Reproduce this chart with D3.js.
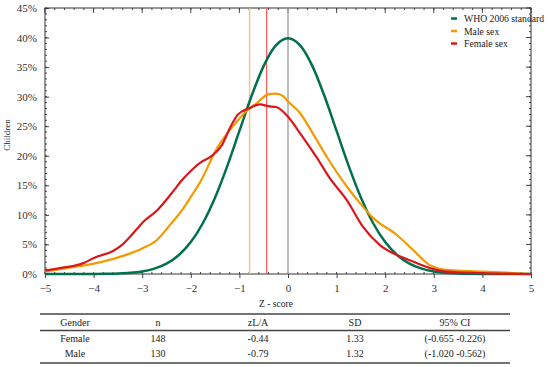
<!DOCTYPE html>
<html>
<head>
<meta charset="utf-8">
<script src="https://cdn.jsdelivr.net/npm/d3@7"></script>
<style>
  body { margin: 0; background: #fff; }
</style>
</head>
<body>
<div id="my_dataviz"></div>
<script>
// z grid and percentages
const zWho = [-5, -4.5, -4, -3.75, -3.5, -3.25, -3, -2.75, -2.5, -2.25, -2, -1.75, -1.5, -1.25, -1, -0.75, -0.5, -0.25, 0,
              0.25, 0.5, 0.75, 1, 1.25, 1.5, 1.75, 2, 2.25, 2.5, 2.75, 3, 3.25, 3.5, 3.75, 4, 4.5, 5]
const who = [0, 0, 0.01, 0.04, 0.09, 0.2, 0.44, 0.91, 1.75, 3.17, 5.4, 8.63, 12.95, 18.26, 24.2, 30.11, 35.21, 38.67, 39.89,
             38.67, 35.21, 30.11, 24.2, 18.26, 12.95, 8.63, 5.4, 3.17, 1.75, 0.91, 0.44, 0.2, 0.09, 0.04, 0.01, 0, 0]

const zMale = [-5, -4.55, -3.97, -3.46, -2.98, -2.69, -2.43, -2.18, -1.98, -1.81, -1.46, -1.05, -0.84, -0.64, -0.41, -0.25,
               -0.1, 0, 0.25, 0.51, 0.8, 1.21, 1.54, 1.75, 2.24, 2.57, 2.92, 3.27, 3.74, 4.36, 4.63, 5]
const male = [0.4, 1.0, 1.8, 2.9, 4.4, 5.8, 8.3, 10.8, 13.3, 15.5, 21.3, 25.8, 27.7, 28.9, 30.4, 30.5,
              30.1, 29.2, 27.2, 23.8, 19.8, 14.8, 11.4, 9.5, 6.6, 4.1, 1.5, 0.7, 0.5, 0.3, 0.15, 0]

const zFemale = [-5, -4.69, -4.22, -3.97, -3.6, -3.42, -3.11, -2.98, -2.69, -2.39, -2.18, -1.98, -1.81, -1.6, -1.36, -1.2, -1.03,
                 -0.78, -0.58, -0.41, -0.23, 0, 0.25, 0.6, 0.86, 1.21, 1.54, 1.89, 2.24, 2.57, 2.92, 3.27, 4, 5]
const female = [0.6, 1.0, 1.8, 2.8, 3.9, 4.9, 7.6, 8.8, 10.8, 13.7, 15.9, 17.6, 18.8, 19.8, 21.8, 24.6, 27.0,
                28.1, 28.7, 28.4, 28.2, 26.6, 23.8, 19.6, 16.2, 12.5, 8.0, 4.9, 3.2, 2.1, 1.0, 0.4, 0.15, 0]

const legendLabels = ["WHO 2006 standard", "Male sex", "Female sex"]
const seriesColors = ["#00704f", "#f39a00", "#d7191c"]

// table
const tableHeader = ["Gender", "n", "zL/A", "SD", "95% CI"]
const genders = ["Female", "Male"]
const counts = [148, 130]
const means = [-0.44, -0.79]
const sds = ["1.33", "1.32"]
const cis = ["(-0.655 -0.226)", "(-1.020 -0.562)"]

const xTicks = [-5, -4, -3, -2, -1, 0, 1, 2, 3, 4, 5]
const yTicks = [0, 5, 10, 15, 20, 25, 30, 35, 40, 45]

var fontFam = "Liberation Serif"
var margin = { left: 45, top: 8 },
    width = 486,
    height = 266

var svg = d3.select("#my_dataviz")
    .append("svg")
    .attr("width", 550)
    .attr("height", 367)
    .attr("font-family", fontFam)

var g = svg.append("g")
    .attr("transform", "translate(" + margin.left + "," + margin.top + ")")

var x = d3.scaleLinear().domain([-5, 5]).range([0, width])
var y = d3.scaleLinear().domain([0, 45]).range([height, 0])

// minor ticks
var xMinor = d3.range(-50, 51, 2).map(d => d / 10)
var yMinor = d3.range(0, 46, 1)
var tickColor = "#444"

g.selectAll(".xminb").data(xMinor).enter().append("line")
    .attr("x1", d => x(d)).attr("x2", d => x(d))
    .attr("y1", height).attr("y2", height - 2)
    .attr("stroke", tickColor)
g.selectAll(".xmint").data(xMinor).enter().append("line")
    .attr("x1", d => x(d)).attr("x2", d => x(d))
    .attr("y1", 0).attr("y2", 2)
    .attr("stroke", tickColor)
g.selectAll(".ymin").data(yMinor).enter().append("line")
    .attr("x1", 0).attr("x2", 2)
    .attr("y1", d => y(d)).attr("y2", d => y(d))
    .attr("stroke", tickColor)
g.selectAll(".yminr").data(yMinor).enter().append("line")
    .attr("x1", width).attr("x2", width - 2)
    .attr("y1", d => y(d)).attr("y2", d => y(d))
    .attr("stroke", tickColor)

// major ticks on top / right
g.selectAll(".xmajt").data(xTicks).enter().append("line")
    .attr("x1", d => x(d)).attr("x2", d => x(d))
    .attr("y1", 0).attr("y2", 5)
    .attr("stroke", tickColor)
g.selectAll(".ymajr").data(yTicks).enter().append("line")
    .attr("x1", width).attr("x2", width - 5)
    .attr("y1", d => y(d)).attr("y2", d => y(d))
    .attr("stroke", tickColor)

// X axis
var xAxis = g.append("g")
    .attr("transform", "translate(0," + height + ")")
    .call(d3.axisBottom(x).tickValues(xTicks).tickSize(4).tickPadding(6).tickFormat(d3.format("d")))
    .attr("font-family", fontFam)
    .attr("font-size", 11)
xAxis.select(".domain").remove()
xAxis.selectAll("text").attr("fill", "#333")
xAxis.selectAll("line").attr("stroke", tickColor)

// Y axis
var yAxis = g.append("g")
    .call(d3.axisLeft(y).tickValues(yTicks).tickSize(-4).tickPadding(8).tickFormat(d => d + "%"))
    .attr("font-family", fontFam)
    .attr("font-size", 11)
yAxis.select(".domain").remove()
yAxis.selectAll("text").attr("fill", "#333")
yAxis.selectAll("line").attr("stroke", tickColor)

// frame
g.append("rect")
    .attr("x", 0).attr("y", 0)
    .attr("width", width).attr("height", height)
    .attr("fill", "none")
    .attr("stroke", "#333")

// mean lines
g.append("line")
    .attr("x1", x(0)).attr("x2", x(0)).attr("y1", 0).attr("y2", height)
    .attr("stroke", "#a8a8a8").attr("stroke-width", 1.5)
g.append("line")
    .attr("x1", x(means[1])).attr("x2", x(means[1])).attr("y1", 0).attr("y2", height)
    .attr("stroke", "#eec590").attr("stroke-width", 1.5)
g.append("line")
    .attr("x1", x(means[0])).attr("x2", x(means[0])).attr("y1", 0).attr("y2", height)
    .attr("stroke", "#ff5a5a").attr("stroke-width", 1.2)

// curves
var line = d3.line()
    .x(d => x(d[0]))
    .y(d => y(d[1]))
    .curve(d3.curveMonotoneX)

var series = [
    d3.zip(zWho, who),
    d3.zip(zMale, male),
    d3.zip(zFemale, female)
]
series.forEach(function (s, i) {
    g.append("path")
        .datum(s)
        .attr("d", line)
        .attr("fill", "none")
        .attr("stroke", seriesColors[i])
        .attr("stroke-width", i == 0 ? 2.5 : 2.2)
        .attr("stroke-linejoin", "round")
})

// legend
legendLabels.forEach(function (lab, i) {
    svg.append("line")
        .attr("x1", 451).attr("x2", 457)
        .attr("y1", 18.5 + i * 12.5).attr("y2", 18.5 + i * 12.5)
        .attr("stroke", seriesColors[i]).attr("stroke-width", 2.5)
    svg.append("text")
        .attr("x", 464).attr("y", 22 + i * 12.5)
        .attr("font-size", 9.7)
        .attr("fill", "#222")
        .text(lab)
})

// axis titles
svg.append("text")
    .attr("text-anchor", "middle")
    .attr("x", 276).attr("y", 307)
    .attr("font-size", 9.6)
    .attr("fill", "#222")
    .text("Z - score")

svg.append("text")
    .attr("text-anchor", "middle")
    .attr("transform", "translate(10,135) rotate(-90)")
    .attr("font-size", 9)
    .attr("fill", "#222")
    .text("Children")

// table
var colX = [75, 158, 258, 355, 455]
svg.append("line").attr("x1", 40).attr("x2", 510).attr("y1", 314).attr("y2", 314)
    .attr("stroke", "#444").attr("stroke-width", 1.5)
svg.append("line").attr("x1", 40).attr("x2", 510).attr("y1", 330.5).attr("y2", 330.5)
    .attr("stroke", "#444").attr("stroke-width", 1.5)
svg.append("line").attr("x1", 40).attr("x2", 510).attr("y1", 363).attr("y2", 363)
    .attr("stroke", "#444").attr("stroke-width", 1.5)

tableHeader.forEach(function (h, i) {
    svg.append("text").attr("text-anchor", "middle")
        .attr("x", colX[i]).attr("y", 325.5)
        .attr("font-size", 10).attr("fill", "#222").text(h)
})
genders.forEach(function (gname, r) {
    var row = [gname, counts[r], means[r].toFixed(2), sds[r], cis[r]]
    row.forEach(function (v, i) {
        svg.append("text").attr("text-anchor", "middle")
            .attr("x", colX[i]).attr("y", 341.5 + r * 15)
            .attr("font-size", 10).attr("fill", "#222").text(v)
    })
})
</script>
</body>
</html>
